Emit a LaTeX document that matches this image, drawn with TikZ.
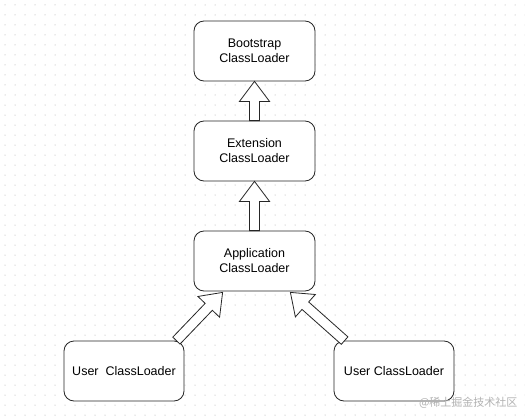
\documentclass[tikz,border=0pt]{standalone}
\usepackage{fontspec}
\setmainfont{Liberation Sans}
\newfontfamily\cjk{Noto Sans CJK SC}
\usetikzlibrary{calc,positioning}

\tikzset{
  loader/.style={draw=black!85,rounded corners=10pt,minimum width=121pt,minimum height=60pt,
    align=center,font=\fontsize{12.5}{15}\selectfont,fill=white,line width=0.8pt},
  hollow/.style={draw=black!85,fill=white,line width=0.8pt,line join=miter}
}
% hollow block arrow from #1 (tail) to #2 (tip)
\newcommand{\blockarrow}[2]{%
  \coordinate (h) at ($(#2)!20pt!(#1)$);
  \draw [hollow] ($(#1)!5pt!90:(#2)$) -- ($(h)!5pt!90:(#2)$) -- ($(h)!15pt!90:(#2)$)
    -- (#2) -- ($(h)!15pt!-90:(#2)$) -- ($(h)!5pt!-90:(#2)$) -- ($(#1)!5pt!-90:(#2)$) -- cycle;}

\begin{document}
\begin{tikzpicture}[x=1pt,y=-1pt]
    \useasboundingbox (0,0) rectangle (525,420);
    \fill [white] (0,0) rectangle (525,420);
    % grid dots
    \foreach \i in {0,...,52}
      \foreach \j in {0,...,41}
        \fill [black!35] (\i*10+5,\j*10+5) circle (0.5pt);

    \node [loader] (boot) at (254.5,51) {Bootstrap\\ClassLoader};
    \node [loader] (ext) at (254.5,151) {Extension\\ClassLoader};
    \node [loader] (app) at (254.5,261) {Application\\ClassLoader};
    \node [loader,minimum width=120pt] (userl) at (124,371) {User\ \ ClassLoader};
    \node [loader,minimum width=120pt] (userr) at (394,371) {User ClassLoader};

    \coordinate (lt) at ($(userl.north east)+(-8,0)$);
    \coordinate (lh) at ($(app.south west)+(29,1)$);
    \coordinate (rt) at ($(userr.north west)+(11,0)$);
    \coordinate (rh) at ($(app.south east)+(-25,1)$);

    \blockarrow{ext.north}{boot.south}
    \blockarrow{app.north}{ext.south}
    \blockarrow{lt}{lh}
    \blockarrow{rt}{rh}

    \node [text=black!30,font=\cjk\fontsize{11}{13}\selectfont,anchor=east] (mark) at (521,403) {@稀土掘金技术社区};
\end{tikzpicture}
\end{document}
